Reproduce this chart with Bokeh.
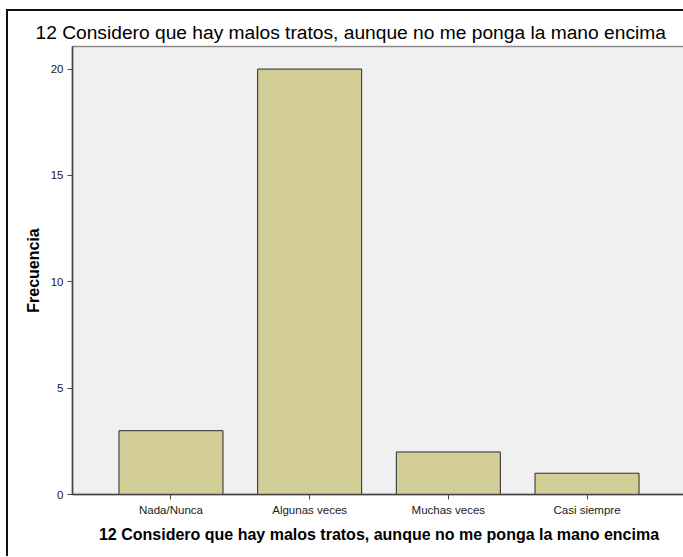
from bokeh.plotting import figure
from bokeh.models import FactorRange, Range1d, FixedTicker
from bokeh.embed import file_html
from bokeh.resources import INLINE

# ---- data ----
categories = ["Nada/Nunca", "Algunas veces", "Muchas veces", "Casi siempre"]
counts = [3, 20, 2, 1]
y_ticks = [0, 5, 10, 15, 20]
title_text = "12 Considero que hay malos tratos, aunque no me ponga la mano encima"
y_label = "Frecuencia"

FONT = "Liberation Sans"

p = figure(
    width=675, height=545,
    x_range=FactorRange(*categories, range_padding=0.105),
    y_range=Range1d(0, 21.06),
    output_backend="svg", toolbar_location=None,
    min_border_left=64, min_border_right=0,
    min_border_top=35, min_border_bottom=64,
)
# outer frame of the chart image (left and top edges visible in the reference)
p.margin = (9, 0, 0, 6)
p.styles = {"border-left": "2px solid #111111", "border-top": "2px solid #111111",
            "box-sizing": "content-box"}

p.vbar(x=categories, top=counts, width=0.75,
       fill_color="#d3ce97", line_color="#2a2a2a", line_width=1)

p.background_fill_color = "#f0f0f0"
p.border_fill_color = "white"
p.outline_line_color = "#8a8a8a"
p.outline_line_width = 1.5
p.xgrid.grid_line_color = None
p.ygrid.grid_line_color = None

# title
p.title.text = title_text
p.title.text_font = FONT
p.title.text_font_size = "19.2px"
p.title.text_font_style = "normal"
p.title.text_color = "black"
p.title.align = "left"
p.title.offset = -37
p.title.standoff = 8

# x axis
xa = p.xaxis[0]
xa.axis_label = title_text
xa.axis_label_text_font = FONT
xa.axis_label_text_font_size = "16px"
xa.axis_label_text_font_style = "bold"
xa.axis_label_text_color = "black"
xa.axis_label_standoff = 7
xa.major_label_text_font = FONT
xa.major_label_text_font_size = "11.5px"
xa.major_label_text_color = "#1a1a1a"
xa.major_label_standoff = 4
xa.axis_line_color = "#444444"
xa.axis_line_width = 1.5
xa.major_tick_line_color = "#444444"
xa.major_tick_out = 5
xa.major_tick_in = 0
xa.minor_tick_line_color = None

# y axis
ya = p.yaxis[0]
ya.ticker = FixedTicker(ticks=y_ticks)
ya.axis_label = y_label
ya.axis_label_text_font = FONT
ya.axis_label_text_font_size = "16px"
ya.axis_label_text_font_style = "bold"
ya.axis_label_text_color = "black"
ya.axis_label_standoff = 6
ya.major_label_text_font = FONT
ya.major_label_text_font_size = "11.5px"
ya.major_label_text_color = "#1a1a1a"
ya.major_label_standoff = 4
ya.axis_line_color = "#444444"
ya.axis_line_width = 1.5
ya.major_tick_line_color = "#444444"
ya.major_tick_out = 5
ya.major_tick_in = 0
ya.minor_tick_line_color = None

open("out.html", "w").write(file_html(p, INLINE))
